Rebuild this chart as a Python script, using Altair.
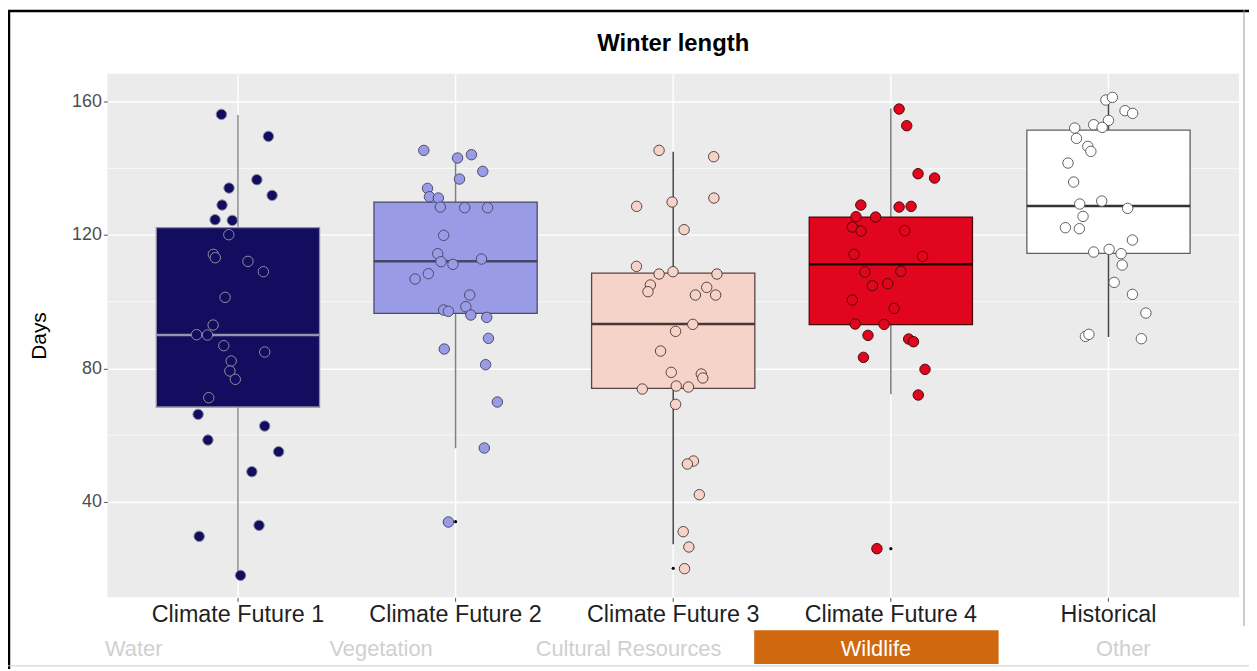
import altair as alt
import pandas as pd

FONT = "Liberation Sans"

chart_title = "Winter length"
categories = ["Climate Future 1", "Climate Future 2", "Climate Future 3", "Climate Future 4", "Historical"]

# box statistics
q1 = [68.4, 96.5, 74.0, 93.1, 114.5]
median = [90.0, 112.1, 93.3, 111.2, 128.7]
q3 = [122.2, 129.9, 108.6, 125.4, 151.5]
whisker_lo = [17.9, 56.0, 27.2, 72.2, 89.4]
whisker_hi = [156.0, 144.6, 145.0, 158.0, 161.0]

outlier_cats = ["Climate Future 2", "Climate Future 3", "Climate Future 4"]
outlier_vals = [34.0, 20.0, 25.9]

# jittered points: values (days) and horizontal jitter (fraction of category width)
cf1_vals = [156.2, 149.6, 136.6, 134.1, 131.9, 129.0, 124.6, 124.4, 120.1, 114.2, 113.2, 112.1, 109.0, 101.3,
            93.0, 90.1, 90.0, 86.8, 84.9, 82.2, 79.2, 76.7, 71.2, 66.2, 62.7, 58.5, 55.0, 49.0, 32.9, 29.6, 17.9]
cf1_jit = [-0.076, 0.140, 0.087, -0.041, 0.157, -0.073, -0.105, -0.026, -0.042, -0.113, -0.104, 0.046, 0.117,
           -0.059, -0.114, -0.190, -0.140, -0.065, 0.123, -0.031, -0.037, -0.012, -0.134, -0.183, 0.123, -0.138,
           0.187, 0.064, 0.097, -0.178, 0.012]

cf2_vals = [145.4, 143.1, 144.1, 139.1, 136.8, 134.0, 131.5, 131.1, 128.4, 128.2, 128.2, 119.9, 114.4, 112.0,
            111.2, 112.8, 108.4, 106.8, 102.0, 98.5, 97.5, 97.1, 96.0, 95.3, 89.0, 85.8, 81.1, 69.9, 56.1, 33.9]
cf2_jit = [-0.146, 0.009, 0.073, 0.125, 0.018, -0.129, -0.120, -0.079, -0.070, 0.042, 0.147, -0.055, -0.082,
           -0.067, -0.012, 0.119, -0.125, -0.186, 0.065, 0.047, -0.055, -0.033, 0.070, 0.143, 0.151, -0.052,
           0.138, 0.192, 0.132, -0.033]

cf3_vals = [145.4, 143.5, 128.6, 129.9, 131.1, 121.6, 110.6, 108.3, 109.0, 108.3, 105.0, 103.0, 104.3, 102.0,
            102.0, 93.2, 91.1, 85.2, 78.8, 78.3, 77.1, 73.8, 74.7, 74.4, 69.2, 52.2, 51.3, 42.1, 31.0, 26.4, 19.9]
cf3_jit = [-0.065, 0.186, -0.168, -0.005, 0.187, 0.050, -0.169, -0.065, -0.001, 0.201, -0.105, -0.116, 0.154,
           0.102, 0.195, 0.090, 0.011, -0.058, -0.009, 0.129, 0.136, -0.142, 0.014, 0.070, 0.011, 0.093, 0.065,
           0.120, 0.046, 0.072, 0.052]

cf4_vals = [157.8, 152.8, 138.4, 137.1, 129.0, 128.4, 128.6, 125.5, 125.4, 122.4, 121.2, 121.3, 114.2, 113.6,
            108.9, 109.1, 104.8, 105.4, 100.5, 98.0, 93.3, 93.2, 89.9, 88.8, 88.0, 83.3, 79.7, 72.0, 25.9]
cf4_jit = [0.038, 0.073, 0.125, 0.201, -0.138, 0.038, 0.093, -0.160, -0.070, -0.177, -0.137, 0.064, -0.169,
           0.146, -0.119, 0.046, -0.085, -0.014, -0.177, 0.015, -0.164, -0.031, -0.105, 0.082, 0.104, -0.126,
           0.157, 0.126, -0.064]

hist_vals = [160.5, 161.3, 157.3, 156.5, 154.4, 153.1, 152.3, 152.1, 149.0, 146.6, 145.1, 141.6, 135.9, 129.3,
             130.2, 128.0, 125.6, 122.2, 121.9, 118.5, 114.9, 115.7, 114.4, 111.0, 105.8, 102.2, 96.6, 89.6,
             90.2, 88.9]
hist_jit = [-0.012, 0.018, 0.076, 0.111, 0.000, -0.068, -0.029, -0.155, -0.147, -0.095, -0.081, -0.186, -0.160,
            -0.132, -0.031, 0.088, -0.117, -0.198, -0.134, 0.110, -0.068, 0.003, 0.058, 0.063, 0.026, 0.110,
            0.172, -0.106, -0.090, 0.151]

minor_grid = [60, 100, 140]
major_ticks = [40, 80, 120, 160]

tabs = ["Water", "Vegetation", "Cultural Resources", "Wildlife", "Other"]
active_tab = "Wildlife"

# colours
fill_colors = ["#120D5E", "#9A9BE6", "#F6D3C8", "#E1061E", "#FFFFFF"]
stroke_colors = ["#8C8CA0", "#4B4B6B", "#5A4444", "#4A0A0A", "#606060"]
whisker_colors = ["#8A8A8A", "#808080", "#444444", "#7A7A7A", "#444444"]
median_colors = ["#9494AA", "#45456A", "#4A3535", "#1A0000", "#333333"]

# ---------------------------------------------------------------------------
box_df = pd.DataFrame({"cat": categories, "q1": q1, "med": median, "q3": q3,
                       "lo": whisker_lo, "hi": whisker_hi})
pts_df = pd.concat([
    pd.DataFrame({"cat": c, "val": v, "jit": j})
    for c, v, j in zip(categories,
                       [cf1_vals, cf2_vals, cf3_vals, cf4_vals, hist_vals],
                       [cf1_jit, cf2_jit, cf3_jit, cf4_jit, hist_jit])
], ignore_index=True)
out_df = pd.DataFrame({"cat": outlier_cats, "val": outlier_vals})
minor_df = pd.DataFrame({"val": minor_grid})
tab_df = pd.DataFrame({"tab": tabs})
title_df = pd.DataFrame({"title": [chart_title]})

W, H = 1139, 527
BOX_W = 0.75 * W / 5.2

xenc = alt.X("cat:N",
             scale=alt.Scale(domain=categories, paddingInner=0, paddingOuter=0.1),
             axis=alt.Axis(title=None, labelAngle=0, labelFont=FONT, labelFontSize=23.5, labelColor="#1f1f1f",
                           grid=True, gridColor="white", gridWidth=1.4, bandPosition=0.5,
                           ticks=True, tickColor="#555555", tickSize=4, tickWidth=1,
                           domain=False, labelPadding=1))

yaxis = alt.Axis(values=major_ticks, grid=True, gridColor="white", gridWidth=1.4,
                 labelFont=FONT, labelFontSize=18, labelColor="#4d4d4d", labelPadding=2,
                 ticks=True, tickColor="#555555", tickSize=4, tickWidth=1, domain=False,
                 titleFont=FONT, titleFontSize=21, titleFontWeight="normal", titleColor="black",
                 titlePadding=22)


def yenc(field):
    return alt.Y(f"{field}:Q", title="Days",
                 scale=alt.Scale(domain=[11.3, 168.4], nice=False, zero=False), axis=yaxis)


fill_scale = alt.Scale(domain=categories, range=fill_colors)
stroke_scale = alt.Scale(domain=categories, range=stroke_colors)

minor_layer = alt.Chart(minor_df).mark_rule(color="white", strokeWidth=0.7).encode(y=yenc("val"))

whisker_layer = alt.Chart(box_df).mark_rule(strokeWidth=1.5).encode(
    x=xenc, y=yenc("lo"), y2="hi",
    color=alt.Color("cat:N", scale=alt.Scale(domain=categories, range=whisker_colors), legend=None))

box_layer = alt.Chart(box_df).mark_bar(size=BOX_W, strokeWidth=1.3, opacity=1).encode(
    x=xenc, y=yenc("q1"), y2="q3",
    fill=alt.Fill("cat:N", scale=fill_scale, legend=None),
    stroke=alt.Stroke("cat:N", scale=stroke_scale, legend=None))

median_layer = alt.Chart(box_df).mark_tick(size=BOX_W, thickness=2.5, opacity=1).encode(
    x=xenc, y=yenc("med"),
    color=alt.Color("cat:N", scale=alt.Scale(domain=categories, range=median_colors), legend=None))

outlier_layer = alt.Chart(out_df).mark_circle(size=10, color="black", opacity=1).encode(
    x=xenc, y=yenc("val"))

points_layer = alt.Chart(pts_df).mark_circle(size=110, opacity=1, strokeWidth=1).encode(
    x=xenc,
    xOffset=alt.XOffset("jit:Q", scale=alt.Scale(domain=[-0.5, 0.5])),
    y=yenc("val"),
    fill=alt.Fill("cat:N", scale=fill_scale, legend=None),
    stroke=alt.Stroke("cat:N", scale=stroke_scale, legend=None))

# title as a text layer (centred over the plot area)
title_layer = alt.Chart(title_df).mark_text(font=FONT, fontSize=24, fontWeight="bold", color="black",
                                            align="center", baseline="middle").encode(
    text="title:N", x=alt.value(W / 2), y=alt.value(-30))

# tab bar below the chart (UI chrome of the source page)
TAB_LEFT, TAB_RIGHT = -99, 1146
tab_w = (TAB_RIGHT - TAB_LEFT) / len(tabs)
tab_layers = []
for i, t in enumerate(tabs):
    x0 = TAB_LEFT + i * tab_w
    if t == active_tab:
        tab_layers.append(alt.Chart(tab_df).transform_filter(alt.datum.tab == t).mark_rect(color="#D0680F").encode(
            x=alt.value(x0 + 3), x2=alt.value(x0 + tab_w), y=alt.value(560), y2=alt.value(594)))
    tab_layers.append(alt.Chart(tab_df).transform_filter(alt.datum.tab == t).mark_text(
        font=FONT, fontSize=22, baseline="middle", align="center",
        color="white" if t == active_tab else "#d0d0d0").encode(
        text="tab:N", x=alt.value(x0 + tab_w / 2 + 1), y=alt.value(579)))

# screenshot frame
frame_left = alt.Chart(title_df).mark_rule(color="black", strokeWidth=2.5).encode(
    x=alt.value(-99), y=alt.value(-64), y2=alt.value(599))
frame_top = alt.Chart(title_df).mark_rule(color="black", strokeWidth=2.5).encode(
    y=alt.value(-63), x=alt.value(-100), x2=alt.value(1149))
frame_right = alt.Chart(title_df).mark_rule(color="#9a9a9a", strokeWidth=1).encode(
    x=alt.value(1144), y=alt.value(-64), y2=alt.value(556))
frame_bottom = alt.Chart(title_df).mark_rule(color="#cccccc", strokeWidth=1).encode(
    y=alt.value(596), x=alt.value(-100), x2=alt.value(1149))

chart = alt.layer(
    minor_layer, whisker_layer, box_layer, median_layer, outlier_layer, points_layer,
    title_layer, *tab_layers, frame_left, frame_top, frame_right, frame_bottom
).resolve_scale(
    color="independent"
).properties(
    width=W, height=H,
    autosize=alt.AutoSizeParams(type="none"),
    padding={"left": 100, "top": 64, "right": 10, "bottom": 72},
).configure_view(fill="#EBEBEB", stroke=None)

chart.save("out.html", embed_options={"renderer": "svg", "actions": False})
